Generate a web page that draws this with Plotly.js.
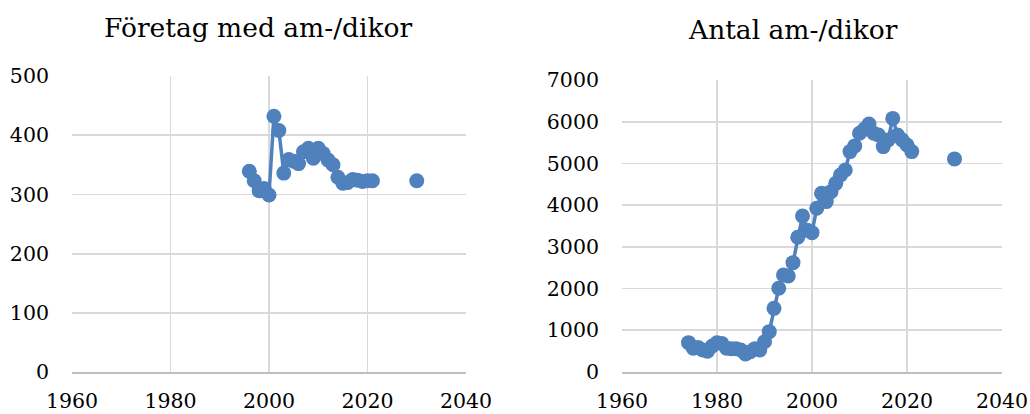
<!DOCTYPE html>
<html><head><meta charset="utf-8">
<script src="https://cdn.plot.ly/plotly-3.0.1.min.js"></script>
<style>html,body{margin:0;padding:0;background:#fff}#chart{width:1030px;height:414px}</style>
</head><body><div id="chart"></div>
<script>
// Left chart: Företag med am-/dikor
const yearsCompanies = [1996,1997,1998,1999,2000,2001,2002,2003,2004,2005,2006,2007,2008,2009,2010,2011,2012,2013,2014,2015,2016,2017,2018,2019,2020,2021,2030];
const companies = [339,323,306,310,299,432,408,336,359,356,352,372,378,361,378,369,358,350,329,319,320,325,324,322,323,323,323];
// Right chart: Antal am-/dikor
const yearsCows = [1974,1975,1976,1977,1978,1979,1980,1981,1982,1983,1984,1985,1986,1987,1988,1989,1990,1991,1992,1993,1994,1995,1996,1997,1998,1999,2000,2001,2002,2003,2004,2005,2006,2007,2008,2009,2010,2011,2012,2013,2014,2015,2016,2017,2018,2019,2020,2021,2030];
const cows = [703,568,590,528,500,622,700,686,568,560,560,528,432,488,560,528,726,967,1526,2006,2326,2300,2622,3230,3741,3400,3341,3925,4283,4085,4323,4523,4723,4843,5283,5420,5723,5819,5947,5723,5683,5403,5563,6080,5683,5563,5443,5283,5108];
const titles = ["Företag med am-/dikor","Antal am-/dikor"];
const xTicks = [1960,1980,2000,2020,2040];

const blue = '#4f81bd';
const FONT = 'DejaVu Serif';
const W = 1030, H = 414;
function mk(x,y,xa,ya){
  return {x:x,y:y,xaxis:xa,yaxis:ya,type:'scatter',mode:'lines+markers',
    line:{color:blue,width:3.5},marker:{color:blue,size:15},connectgaps:false,hoverinfo:'x+y'};
}
// break the line before the 2030 point
function splitGap(xs,ys){
  const xx=[],yy=[];
  for(let i=0;i<xs.length;i++){
    if(i>0 && xs[i]-xs[i-1]>1){xx.push(null);yy.push(null);}
    xx.push(xs[i]);yy.push(ys[i]);
  }
  return [xx,yy];
}
const a = splitGap(yearsCompanies,companies);
const b = splitGap(yearsCows,cows);
const data=[mk(a[0],a[1],'x','y'),mk(b[0],b[1],'x2','y2')];
const axX = (dom)=>({domain:dom,range:[1960,2040],tickvals:xTicks,ticktext:xTicks.map(String),
  showgrid:true,gridcolor:'#d9d9d9',gridwidth:1.8,zeroline:false,showline:true,linecolor:'#bfbfbf',linewidth:1.8,
  ticks:'',tickfont:{family:FONT,size:20.5,color:'#000'},ticklabelstandoff:10,fixedrange:true});
const axY = (dom,rng,dt)=>({domain:dom,range:rng,dtick:dt,tick0:0,showgrid:true,gridcolor:'#d9d9d9',gridwidth:1.8,
  zeroline:false,showline:false,ticks:'',tickfont:{family:FONT,size:20.5,color:'#000'},ticklabelstandoff:22,fixedrange:true});
const layout={
  width:W,height:H,margin:{l:0,r:0,t:0,b:0},paper_bgcolor:'#fff',plot_bgcolor:'#fff',showlegend:false,
  font:{family:FONT,color:'#000'},
  xaxis:axX([72/W,466/W]),
  yaxis:axY([42/H,338/H],[0,500],100),
  xaxis2:Object.assign(axX([622/W,1002/W]),{anchor:'y2'}),
  yaxis2:Object.assign(axY([42/H,334/H],[0,7000],1000),{anchor:'x2'}),
  annotations:[
    {text:titles[0],xref:'paper',yref:'paper',x:258/W,y:1-28/H,xanchor:'center',yanchor:'middle',showarrow:false,font:{family:FONT,size:26.5,color:'#000'}},
    {text:titles[1],xref:'paper',yref:'paper',x:793/W,y:1-30/H,xanchor:'center',yanchor:'middle',showarrow:false,font:{family:FONT,size:26.5,color:'#000'}}
  ]
};
layout.xaxis.anchor='y';layout.yaxis.anchor='x';
Plotly.newPlot('chart',data,layout,{displayModeBar:false,staticPlot:true});
</script></body></html>
